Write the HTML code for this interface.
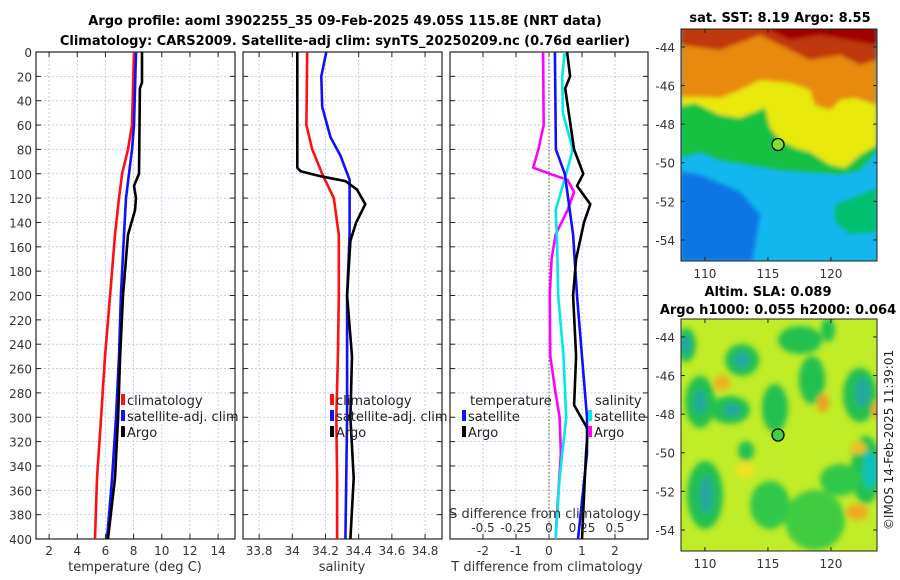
<!DOCTYPE html>
<html><head><meta charset="utf-8"><style>
body{margin:0;background:#fff;}
svg{display:block;font-family:"DejaVu Sans","Liberation Sans",sans-serif;}
</style></head><body>
<svg id="c" width="900" height="580" viewBox="0 0 900 580" xmlns="http://www.w3.org/2000/svg">
<defs>
<filter id="b2"><feGaussianBlur stdDeviation="2"/></filter>
<filter id="b4"><feGaussianBlur stdDeviation="3"/></filter>
<clipPath id="cp1"><rect x="681" y="29" width="196" height="232"/></clipPath>
<clipPath id="cp2"><rect x="681" y="319" width="196" height="232"/></clipPath>
</defs>
<text x="345" y="25" text-anchor="middle" font-size="13" font-weight="bold">Argo profile: aoml 3902255_35 09-Feb-2025 49.05S 115.8E (NRT data)</text>
<text x="345" y="45" text-anchor="middle" font-size="13" font-weight="bold">Climatology: CARS2009. Satellite-adj clim: synTS_20250209.nc (0.76d earlier)</text>

<!-- SST map -->
<g clip-path="url(#cp1)">
<rect x="681" y="29" width="196" height="232" fill="#14b6ee"/>
<g filter="url(#b2)">
<polygon points="681,172 700,175 740,192 760,215 752,261 681,261" fill="#0a74e4"/>
<polygon points="835,205 877,188 877,232 850,234 835,222" fill="#00c070"/>
<polygon points="681,20 877,20 877,150 860,170 840,174 810,172 780,170 750,165 720,160 700,152 681,157" fill="#14c040"/>
<polygon points="681,20 877,20 877,145 860,155 845,168 830,165 810,152 795,148 780,140 770,128 765,108 760,110 740,118 720,115 695,103 681,106" fill="#e8e80a"/>
<polygon points="681,20 877,20 877,105 855,98 840,100 830,110 815,105 810,90 790,83 760,80 740,90 720,98 700,97 681,97" fill="#e88a10"/>
<polygon points="681,20 877,20 877,60 860,65 840,55 810,60 790,50 760,35 720,50 681,45" fill="#c03808"/>
<polygon points="740,20 877,20 877,45 860,42 820,35 790,40 770,30 750,26" fill="#a00000"/>
</g>
</g>
<rect x="681" y="29" width="196" height="232" fill="none" stroke="#222"/>
<circle cx="778" cy="144.5" r="6" fill="#7ce030" stroke="#000" stroke-width="1.3"/>
<text x="780" y="22" text-anchor="middle" font-size="13" font-weight="bold">sat. SST: 8.19 Argo: 8.55</text>

<!-- SLA map -->
<g clip-path="url(#cp2)">
<rect x="681" y="319" width="196" height="232" fill="#c0ec28"/>
<g filter="url(#b4)">
<ellipse cx="686" cy="345" rx="10" ry="17" fill="#20c050"/>
<ellipse cx="742" cy="360" rx="17" ry="16" fill="#20c050"/>
<ellipse cx="700" cy="402" rx="15" ry="26" fill="#20c050"/>
<ellipse cx="730" cy="410" rx="20" ry="14" fill="#20c050"/>
<ellipse cx="775" cy="408" rx="13" ry="24" fill="#20c050"/>
<ellipse cx="812" cy="380" rx="13" ry="24" fill="#20c050"/>
<ellipse cx="800" cy="340" rx="22" ry="14" fill="#20c050"/>
<ellipse cx="860" cy="395" rx="17" ry="27" fill="#20c050"/>
<ellipse cx="866" cy="470" rx="15" ry="34" fill="#20c050"/>
<ellipse cx="705" cy="495" rx="18" ry="34" fill="#20c050"/>
<ellipse cx="746" cy="451" rx="8" ry="10" fill="#20c050"/>
<ellipse cx="770" cy="505" rx="20" ry="24" fill="#30c848"/>
<ellipse cx="815" cy="520" rx="30" ry="30" fill="#40cc40"/>
<ellipse cx="840" cy="480" rx="20" ry="16" fill="#30c848"/>
<ellipse cx="828" cy="330" rx="7" ry="12" fill="#20c050"/>
<ellipse cx="686" cy="345" rx="5" ry="10" fill="#20a8a0"/>
<ellipse cx="742" cy="360" rx="8" ry="8" fill="#20a8a0"/>
<ellipse cx="700" cy="402" rx="6" ry="13" fill="#20a8a0"/>
<ellipse cx="732" cy="410" rx="9" ry="6" fill="#20a8a0"/>
<ellipse cx="862" cy="392" rx="7" ry="15" fill="#20a8a0"/>
<ellipse cx="870" cy="470" rx="7" ry="19" fill="#10c0c0"/>
<ellipse cx="706" cy="495" rx="7" ry="19" fill="#20a8a0"/>
<ellipse cx="722" cy="383" rx="8" ry="8" fill="#f0b020"/>
<ellipse cx="823" cy="403" rx="6" ry="9" fill="#f0a020"/>
<ellipse cx="858" cy="448" rx="8" ry="6" fill="#f0c020"/>
<ellipse cx="857" cy="512" rx="11" ry="8" fill="#f0a820"/>
<ellipse cx="877" cy="410" rx="5" ry="9" fill="#f0a820"/>
<ellipse cx="745" cy="470" rx="10" ry="8" fill="#f0e020"/>
</g>
</g>
<rect x="681" y="319" width="196" height="232" fill="none" stroke="#222"/>
<circle cx="778" cy="435" r="6" fill="#40d040" stroke="#000" stroke-width="1.3"/>
<text x="768" y="296" text-anchor="middle" font-size="13" font-weight="bold">Altim. SLA: 0.089</text>
<text x="778" y="314" text-anchor="middle" font-size="13" font-weight="bold">Argo h1000: 0.055 h2000: 0.064</text>
<text transform="translate(893,440) rotate(-90)" text-anchor="middle" font-size="12" fill="#222">©IMOS 14-Feb-2025 11:39:01</text>
<g id="mapaxes"></g>
<g id="panels"></g>
</svg>
<script>
// depth-profile data
const depthClim = [0,60,80,100,120,150,200,250,300,350,400];
const tempClim = [8.03,7.89,7.6,7.18,6.96,6.68,6.33,5.97,5.69,5.4,5.26];
const depthSat = [0,60,80,100,120,150,200,250,300,350,400];
const tempSat = [8.17,8.03,7.89,7.67,7.46,7.32,7.1,6.96,6.75,6.47,6.11];
const depthArgo = [0,25,30,100,110,120,130,150,200,250,300,350,400];
const tempArgo = [8.6,8.6,8.45,8.38,8.03,8.17,8.1,7.6,7.25,7.04,6.9,6.68,6.18];
const salClim = [34.09,34.085,34.12,34.18,34.25,34.28,34.28,34.275,34.265,34.27,34.27];
const depthSalSat = [0,20,45,70,85,105,150,200,300,400];
const salSat = [34.205,34.175,34.18,34.23,34.29,34.345,34.345,34.33,34.33,34.32];
const depthSalArgo = [0,95,98,102,106,113,125,140,155,200,250,300,350,400];
const salArgo = [34.03,34.03,34.05,34.17,34.32,34.39,34.44,34.385,34.35,34.33,34.36,34.35,34.37,34.35];
const depthDT = [0,20,30,80,100,110,125,140,170,200,250,290,310,330,400];
const dTArgo = [0.55,0.64,0.49,0.76,1.04,0.85,1.25,1.06,0.82,0.73,0.82,0.76,1.18,1.12,1.0];
const depthDTs = [0,80,100,150,200,300,330,400];
const dTSat = [0.18,0.21,0.48,0.73,0.85,1.15,1.15,0.88];
const depthDS = [0,20,50,80,100,130,150,200,250,300,350,400];
const dSSat = [0.12,0.1,0.105,0.18,0.13,0.05,0.06,0.07,0.11,0.13,0.08,0.05];
const depthDSa = [0,60,80,95,100,105,115,130,150,170,200,250,280,300,330,380,400];
const dSArgo = [-0.045,-0.04,-0.08,-0.12,0.007,0.14,0.19,0.14,0.05,0.02,0.005,0.01,0.05,0.08,0.09,0.06,0.05];
const depthTicks = [0,20,40,60,80,100,120,140,160,180,200,220,240,260,280,300,320,340,360,380,400];
const tTicks = [2,4,6,8,10,12,14];
const sTicks = ["33.8","34","34.2","34.4","34.6","34.8"];
const dTTicks = [-2,-1,0,1,2];
const dSTicks = ["-0.5","-0.25","0","0.25","0.5"];
const latTicks = [-44,-46,-48,-50,-52,-54];
const lonTicks = [110,115,120];

const NS="http://www.w3.org/2000/svg";
const P=document.getElementById('panels');
function mk(tag,at,parent){const e=document.createElementNS(NS,tag);for(const k in at)e.setAttribute(k,at[k]);(parent||P).appendChild(e);return e;}
const Y0=52,Y1=539;
const yD=d=>Y0+(d/400)*(Y1-Y0);
function panel(x0,x1,vmin,vmax,ticks,name){
  const g=mk('g',{});
  
  
  const xf=v=>x0+(v-vmin)/(vmax-vmin)*(x1-x0);
  depthTicks.forEach(d=>{const l=mk('line',{x1:x0,x2:x1,y1:yD(d),y2:yD(d),stroke:'#b8c4e8','stroke-width':0.8,'stroke-dasharray':'2,2'},g);
    
    
    mk('line',{x1:x0,x2:x0+5,y1:yD(d),y2:yD(d),stroke:'#222'},g);mk('line',{x1:x1-5,x2:x1,y1:yD(d),y2:yD(d),stroke:'#222'},g);});
  ticks.forEach(t=>{const x=xf(+t);const l=mk('line',{x1:x,x2:x,y1:Y0,y2:Y1,stroke:'#b8c4e8','stroke-width':0.8,'stroke-dasharray':'2,2'},g);
    
    
    mk('line',{x1:x,x2:x,y1:Y1-5,y2:Y1,stroke:'#222'},g);mk('line',{x1:x,x2:x,y1:Y0,y2:Y0+5,stroke:'#222'},g);
    const tx=mk('text',{x:x,y:555,'text-anchor':'middle','font-size':12,fill:'#333'},g);tx.textContent=t;
    
    });
  const r=mk('rect',{x:x0,y:Y0,width:x1-x0,height:Y1-Y0,fill:'none',stroke:'#222','stroke-width':1.2},g);
  
  
  return {g,xf};
}
function line(p,ds,vs,color,name,sc){
  const pts=ds.map((d,i)=>p.xf(vs[i]*(sc||1)).toFixed(1)+','+yD(d).toFixed(1)).join(' ');
  const l=mk('polyline',{points:pts,fill:'none',stroke:color,'stroke-width':2.6,'stroke-linejoin':'round'},p.g);
  
  
}
function txt(x,y,s,name,extra){const t=mk('text',Object.assign({x:x,y:y,'font-size':13,fill:'#222'},extra||{}));t.textContent=s;
  
  return t;}
function leg(x,y,color,label,name){const r=mk('rect',{x:x,y:y-6,width:4,height:11,fill:color});
  
  
  txt(x+6,y+5,label,name);}

// y-axis labels
depthTicks.forEach(d=>txt(32,yD(d)+5,String(d),'y-tick-label',{'text-anchor':'end','font-size':12,fill:'#333'}));

const p1=panel(36,235,1.07,15.2,tTicks,'temperature-panel');
line(p1,depthClim,tempClim,'#ff1010','temp-climatology-line');
line(p1,depthSat,tempSat,'#1010ff','temp-satellite-line');
line(p1,depthArgo,tempArgo,'#000','temp-argo-line');
txt(135,571,'temperature (deg C)','x-axis-title-temperature',{'text-anchor':'middle',fill:'#333'});
leg(121,400,'#ff1010','climatology','legend-climatology');
leg(121,416,'#1010ff','satellite-adj. clim','legend-satellite');
leg(121,432,'#000','Argo','legend-argo');

const p2=panel(243,442,33.703,34.902,sTicks,'salinity-panel');
line(p2,depthClim,salClim,'#ff1010','sal-climatology-line');
line(p2,depthSalSat,salSat,'#1010ff','sal-satellite-line');
line(p2,depthSalArgo,salArgo,'#000','sal-argo-line');
txt(342,571,'salinity','x-axis-title-salinity',{'text-anchor':'middle',fill:'#333'});
leg(330,400,'#ff1010','climatology','legend-climatology-2');
leg(330,416,'#1010ff','satellite-adj. clim','legend-satellite-2');
leg(330,432,'#000','Argo','legend-argo-2');

const p3=panel(450,648,-3.0,3.0,dTTicks,'difference-panel');
const z=mk('line',{x1:p3.xf(0),x2:p3.xf(0),y1:Y0,y2:Y1,stroke:'#555','stroke-dasharray':'1.5,2'},p3.g);


const sScale=4; // S axis: 0.25 S = 1 T unit
line(p3,depthDSa,dSArgo,'#ff00ff','sdiff-argo-line',sScale);
line(p3,depthDS,dSSat,'#00e8e8','sdiff-satellite-line',sScale);
line(p3,depthDTs,dTSat,'#1010ff','tdiff-satellite-line');
line(p3,depthDT,dTArgo,'#000','tdiff-argo-line');
dSTicks.forEach(t=>txt(p3.xf(+t*sScale),532,t,'s-tick-label',{'text-anchor':'middle','font-size':12,fill:'#333'}));
txt(545,518,'S difference from climatology','s-axis-title',{'text-anchor':'middle',fill:'#333'});
txt(547,571,'T difference from climatology','t-axis-title',{'text-anchor':'middle',fill:'#333'});
txt(470,405,'temperature','legend-temperature-header');
leg(462,416,'#1010ff','satellite','legend-t-satellite');
leg(462,432,'#000','Argo','legend-t-argo');
txt(595,405,'salinity','legend-salinity-header');
leg(588,416,'#00e8e8','satellite','legend-s-satellite');
leg(588,432,'#ff00ff','Argo','legend-s-argo');

// map axes
const M=document.getElementById('mapaxes');
function mapAxes(top){
  const latY=l=>top+(-43.07-l)*19.3;
  latTicks.forEach(l=>{const y=latY(l);
    mk('line',{x1:681,x2:685,y1:y,y2:y,stroke:'#222'},M);mk('line',{x1:873,x2:877,y1:y,y2:y,stroke:'#222'},M);
    const t=mk('text',{x:675,y:y+5,'text-anchor':'end','font-size':12,fill:'#333'},M);t.textContent=l;
    
    });
  lonTicks.forEach(o=>{const x=681+(o-108.1)*12.6;
    mk('line',{x1:x,x2:x,y1:top+228,y2:top+232,stroke:'#222'},M);mk('line',{x1:x,x2:x,y1:top,y2:top+4,stroke:'#222'},M);
    const t=mk('text',{x:x,y:top+249,'text-anchor':'middle','font-size':12,fill:'#333'},M);t.textContent=o;
    
    });
}
mapAxes(29);mapAxes(319);
</script>
</body></html>
